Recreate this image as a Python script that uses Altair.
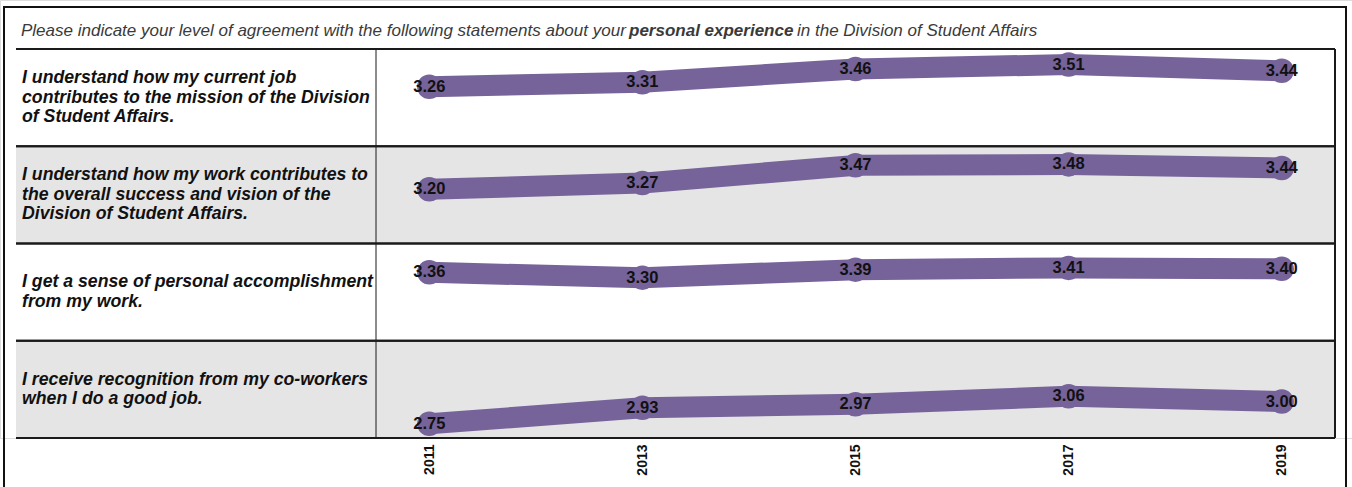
import altair as alt
import pandas as pd

# ---------------- data ----------------
years = ["2011", "2013", "2015", "2017", "2019"]
statements = [
    "I understand how my current job\ncontributes to the mission of the Division\nof Student Affairs.",
    "I understand how my work contributes to\nthe overall success and vision of the\nDivision of Student Affairs.",
    "I get a sense of personal accomplishment\nfrom my work.",
    "I receive recognition from my co-workers\nwhen I do a good job.",
]
scores_row1 = [3.26, 3.31, 3.46, 3.51, 3.44]
scores_row2 = [3.20, 3.27, 3.47, 3.48, 3.44]
scores_row3 = [3.36, 3.30, 3.39, 3.41, 3.40]
scores_row4 = [2.75, 2.93, 2.97, 3.06, 3.00]
title_parts = [
    "Please indicate your level of agreement with the following statements about your",
    "personal experience",
    "in the Division of Student Affairs",
]

all_scores = [scores_row1, scores_row2, scores_row3, scores_row4]
rows = []
for s, vals in zip(statements, all_scores):
    for y, v in zip(years, vals):
        rows.append({"statement": s, "year": y, "score": v})
df = pd.DataFrame(rows)
stmt_df = pd.DataFrame({"statement": statements, "row": list(range(len(statements)))})
title_df = pd.DataFrame({"part": title_parts, "idx": [0, 1, 2]})

# one row per printed line of each statement
line_rows = []
for s in statements:
    parts = s.split("\n")
    for i, p in enumerate(parts):
        line_rows.append({"statement": s, "text": p, "i": i, "n": len(parts)})
lines_df = pd.DataFrame(line_rows)

PURPLE = "#76639a"
W, H = 1352, 438
ROW_TOP, ROW_BOT = 49, 438
TABLE_L, DIV_X, TABLE_R = 16, 376, 1335
LINE_H = 19.5
band_h = (ROW_BOT - ROW_TOP) / len(statements)

yband = alt.Scale(domain=statements, range=[ROW_TOP, ROW_BOT], paddingInner=0, paddingOuter=0)
xscale = alt.Scale(domain=years, range=[DIV_X, TABLE_R], padding=0.25)
yoff = alt.Scale(domain=[2.59, 3.685], range=[band_h, 0])
ident = alt.Scale(domain=[0, band_h], range=[0, band_h])

blank = alt.Data(values=[{}])

frame = alt.Chart(blank).mark_rect(fillOpacity=0, stroke="#111111", strokeWidth=2).encode(
    x=alt.value(4), x2=alt.value(1346), y=alt.value(7), y2=alt.value(700)
)

title_x = [21, 629, 797]
title_layers = []
for i, part in enumerate(title_parts):
    t = alt.Chart(title_df).transform_filter(f"datum.idx == {i}").mark_text(
        align="left", baseline="middle", font="Liberation Sans", fontSize=17,
        fontStyle="italic", fontWeight="bold" if i == 1 else "normal", color="#3a3a3a"
    ).encode(x=alt.value(title_x[i]), y=alt.value(31), text="part:N")
    title_layers.append(t)

bg = alt.Chart(stmt_df).transform_calculate(
    shade="datum.row % 2 == 1 ? 'grey' : 'white'"
).mark_rect().encode(
    y=alt.Y("statement:N", scale=yband, axis=None),
    x=alt.value(TABLE_L), x2=alt.value(TABLE_R),
    fill=alt.Fill("shade:N", scale=alt.Scale(domain=["white", "grey"], range=["#ffffff", "#e5e5e5"]), legend=None),
)

top_rules = alt.Chart(stmt_df).mark_rule(color="#1a1a1a", strokeWidth=2).encode(
    y=alt.Y("statement:N", scale=yband, axis=None, bandPosition=0),
    x=alt.value(TABLE_L), x2=alt.value(TABLE_R),
)
bot_rules = alt.Chart(stmt_df).mark_rule(color="#1a1a1a", strokeWidth=2).encode(
    y=alt.Y("statement:N", scale=yband, axis=None, bandPosition=1),
    x=alt.value(TABLE_L), x2=alt.value(TABLE_R),
)
vrules = alt.Chart(pd.DataFrame({"xpos": [DIV_X, TABLE_R], "w": [1, 2]})).mark_rule(color="#1a1a1a").encode(
    x=alt.X("xpos:Q", scale=None), y=alt.value(ROW_TOP), y2=alt.value(ROW_BOT),
    strokeWidth=alt.StrokeWidth("w:Q", scale=None),
)

labels = alt.Chart(lines_df).transform_calculate(
    off=f"{band_h / 2} + (datum.i - (datum.n - 1) / 2) * {LINE_H}"
).mark_text(
    align="left", baseline="middle",
    font="Liberation Sans", fontSize=17.7, fontStyle="italic", fontWeight="bold", color="#111111"
).encode(
    y=alt.Y("statement:N", scale=yband, axis=None),
    yOffset=alt.YOffset("off:Q", scale=ident),
    x=alt.value(22),
    text="text:N",
)

base = alt.Chart(df).encode(
    x=alt.X("year:O", scale=xscale, sort=years,
            axis=alt.Axis(title=None, labelAngle=-90, labelFont="Liberation Sans", labelFontWeight="bold",
                          labelFontSize=14, labelColor="#111111", domain=False, ticks=False,
                          labelPadding=6, grid=False)),
    y=alt.Y("statement:N", scale=yband, axis=None),
    yOffset=alt.YOffset("score:Q", scale=yoff),
)

line = base.mark_line(color=PURPLE, strokeWidth=21, strokeCap="round", strokeJoin="round").encode(
    detail="statement:N", order=alt.Order("year:O")
)
pts = base.mark_circle(color=PURPLE, size=600, opacity=1)
vals = base.mark_text(font="Liberation Sans", fontSize=16.5, fontWeight="bold", color="#111111",
                      baseline="middle", align="center").encode(text=alt.Text("score:Q", format=".2f"))

chart = alt.layer(frame, *title_layers, bg, top_rules, bot_rules, vrules, labels, line, pts, vals).properties(
    width=W, height=H, autosize=alt.AutoSizeParams(type="none"),
    padding={"left": 0, "top": 0, "right": 0, "bottom": 49},
).resolve_scale(yOffset="independent").configure_view(stroke=None).configure(background="white")

chart.save("out.html", embed_options={"renderer": "svg", "actions": False})
